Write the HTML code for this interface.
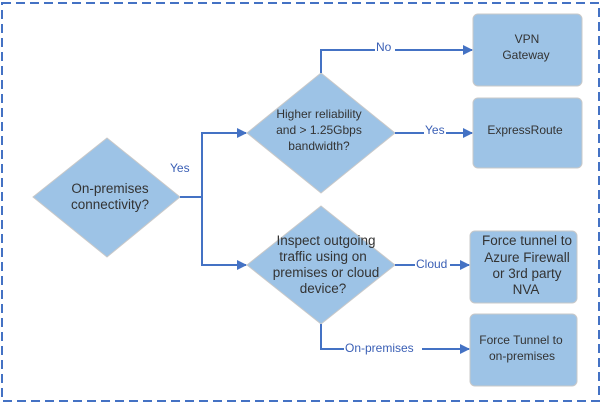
<!DOCTYPE html>
<html><head><meta charset="utf-8"><style>html,body{margin:0;padding:0;background:#fff}svg{display:block}</style></head>
<body>
<svg width="602" height="403" viewBox="0 0 602 403" xmlns="http://www.w3.org/2000/svg" font-family="Liberation Sans, sans-serif">
<defs><marker id="a" markerWidth="10" markerHeight="10" refX="9" refY="5" orient="auto" markerUnits="userSpaceOnUse"><path d="M0,0 L10,5 L0,10 z" fill="#4472c4"/></marker></defs>
<rect x="2" y="3" width="597" height="398" fill="none" stroke="#4472c4" stroke-width="2" stroke-dasharray="9,5"/>
<g fill="#9dc3e6" stroke="#c8c8c8" stroke-width="1">
<polygon points="107,138 180,197 107,257 33,197"/>
<polygon points="321,73 395,133 321,193 247,133"/>
<polygon points="321,206 395,265 321,324 247,265"/>
<rect x="473" y="14" width="109" height="72" rx="5"/>
<rect x="473" y="98" width="109" height="70" rx="5"/>
<rect x="470" y="231" width="107" height="72" rx="5"/>
<rect x="470" y="314" width="107" height="72" rx="5"/>
</g>
<g fill="none" stroke="#4472c4" stroke-width="2">
<polyline points="180,197 202,197 202,133 246,133" marker-end="url(#a)"/>
<polyline points="202,197 202,265 246,265" marker-end="url(#a)"/>
<polyline points="321,73 321,50 472,50" marker-end="url(#a)"/>
<polyline points="395,133 472,133" marker-end="url(#a)"/>
<polyline points="395,265 469,265" marker-end="url(#a)"/>
<polyline points="321,324 321,349 469,349" marker-end="url(#a)"/>
</g>
<g fill="#fff" stroke="none">
<rect x="375" y="40" width="20" height="14"/>
<rect x="424" y="123" width="22" height="14"/>
<rect x="415" y="255" width="35" height="14"/>
<rect x="344" y="340" width="78" height="14"/>
</g>
<g fill="#3a5fb5" font-size="12">
<text x="170" y="172">Yes</text>
<text x="376" y="51">No</text>
<text x="425" y="134">Yes</text>
<text x="416" y="268">Cloud</text>
<text x="345" y="352">On-premises</text>
</g>
<g fill="#333" font-size="12" text-anchor="middle">
<text x="110" y="193" font-size="13.5">On-premises</text>
<text x="110" y="209" font-size="13.5">connectivity?</text>
<text x="319" y="118">Higher reliability</text>
<text x="319" y="134">and &gt; 1.25Gbps</text>
<text x="319" y="150">bandwidth?</text>
<text x="326" y="245" font-size="13.5">Inspect outgoing</text>
<text x="323" y="261" font-size="13.5">traffic using on</text>
<text x="326" y="277" font-size="13.5">premises or cloud</text>
<text x="323" y="293" font-size="13.5">device?</text>
<text x="527" y="43">VPN</text>
<text x="526" y="59">Gateway</text>
<text x="525" y="134">ExpressRoute</text>
<text x="527" y="245" font-size="13.5">Force tunnel to</text>
<text x="527" y="262" font-size="13.5">Azure Firewall</text>
<text x="527" y="278" font-size="13.5">or 3rd party</text>
<text x="526" y="294" font-size="13.5">NVA</text>
<text x="521" y="344">Force Tunnel to</text>
<text x="522" y="360">on-premises</text>
</g>
</svg>
</body></html>
